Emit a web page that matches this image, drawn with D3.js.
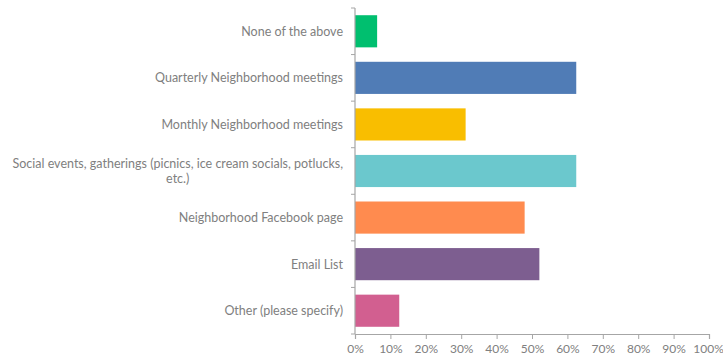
<!DOCTYPE html>
<html>
<head>
<meta charset="utf-8">
<script src="https://cdn.jsdelivr.net/npm/d3@7"></script>
<style>
  html, body { margin: 0; padding: 0; background: #fff; }
  svg { display: block; }
  text { font-family: Lato, "Open Sans", sans-serif; fill: #808080; }
</style>
</head>
<body>
<svg id="chart" width="723" height="360"></svg>
<script>
// Answer options, top to bottom
const categories = [
  "None of the above",
  "Quarterly Neighborhood meetings",
  "Monthly Neighborhood meetings",
  "Social events, gatherings (picnics, ice cream socials, potlucks, etc.)",
  "Neighborhood Facebook page",
  "Email List",
  "Other (please specify)"
];
// Share of respondents choosing each option (%)
const values = [6.25, 62.5, 31.25, 62.5, 47.92, 52.08, 12.5];
const barColors = ["#00BF6F", "#507CB6", "#F9BE00", "#6BC8CD", "#FF8B4F", "#7D5E90", "#D25F90"];
const tickValues = [0, 10, 20, 30, 40, 50, 60, 70, 80, 90, 100];

const svg = d3.select("#chart");
const margin = { top: 8, left: 355, right: 14, bottom: 26 };
const W = 723, H = 360;

const x = d3.scaleLinear().domain([0, 100]).range([margin.left, W - margin.right]);
const y = d3.scaleBand().domain(categories).range([margin.top, H - margin.bottom])
  .paddingInner(0.31).paddingOuter(0.155);

const axisColor = "#a6a6a6";

// Bars
svg.append("g").selectAll("rect").data(categories).join("rect")
  .attr("x", x(0))
  .attr("y", d => y(d))
  .attr("width", (d, i) => x(values[i]) - x(0))
  .attr("height", y.bandwidth())
  .attr("fill", (d, i) => barColors[i]);

// Category axis: boundary ticks between bands
const bounds = d3.range(categories.length + 1).map(i => margin.top + i * (H - margin.bottom - margin.top) / categories.length);
const yAxis = svg.append("g");
yAxis.append("line")
  .attr("x1", x(0)).attr("x2", x(0))
  .attr("y1", bounds[0]).attr("y2", bounds[bounds.length - 1])
  .attr("stroke", axisColor).attr("stroke-width", 1.2);
yAxis.selectAll("line.tick").data(bounds).join("line")
  .attr("class", "tick")
  .attr("x1", x(0) - 4).attr("x2", x(0))
  .attr("y1", d => d).attr("y2", d => d)
  .attr("stroke", axisColor);

// Category labels, wrapped; multi-line labels are centred as a block
const labelRight = 343;
const maxWidth = 332;
const fontSize = 12.5;
const lineH = 15.5;
categories.forEach((cat, i) => {
  const cy = y(cat) + y.bandwidth() / 2;
  const t = svg.append("text").attr("font-size", fontSize);
  const words = cat.split(" ");
  const lines = [];
  let cur = "";
  const probe = svg.append("text").attr("font-size", fontSize).attr("visibility", "hidden");
  words.forEach(w => {
    const test = cur ? cur + " " + w : w;
    probe.text(test);
    if (probe.node().getComputedTextLength() > maxWidth && cur) {
      lines.push(cur); cur = w;
    } else cur = test;
  });
  lines.push(cur);
  let widest = 0;
  lines.forEach(l => { probe.text(l); widest = Math.max(widest, probe.node().getComputedTextLength()); });
  probe.remove();
  const centerX = labelRight - widest / 2;
  const y0 = cy - (lines.length - 1) * lineH / 2;
  lines.forEach((l, j) => {
    t.append("tspan")
      .attr("x", lines.length > 1 ? centerX : labelRight)
      .attr("y", y0 + j * lineH)
      .attr("dy", "0.35em")
      .attr("text-anchor", lines.length > 1 ? "middle" : "end")
      .text(l);
  });
});

// Value axis
const xAxis = d3.axisBottom(x).tickValues(tickValues).tickFormat(d => d + "%").tickSize(5).tickPadding(5);
const gx = svg.append("g").attr("transform", `translate(0,${bounds[bounds.length - 1]})`).call(xAxis);
gx.select(".domain").attr("stroke", axisColor).attr("stroke-width", 1.2);
gx.selectAll(".tick line").attr("stroke", axisColor);
gx.selectAll(".tick text").attr("fill", "#808080").attr("font-size", 12)
  .attr("font-family", "Lato, 'Open Sans', sans-serif");
// keep the last tick label inside the canvas
gx.selectAll(".tick text").filter(d => d === 100).attr("dx", -1);
</script>
</body>
</html>
